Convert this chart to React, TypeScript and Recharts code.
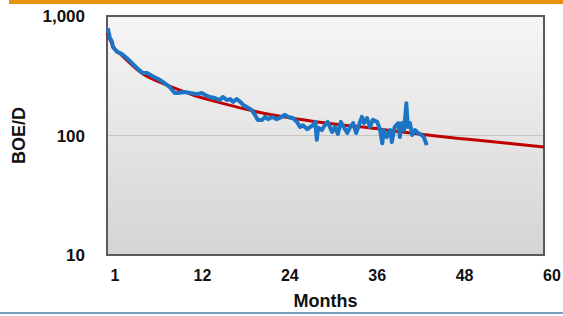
import { LineChart, Line, XAxis, YAxis, CartesianGrid, ReferenceArea } from 'recharts'

const actualMonths = [
  0.1, 0.4, 0.7, 0.8, 1.4, 1.8, 2.2, 2.7, 3.4, 4.1, 4.9, 5.5, 6.2, 7.0, 7.7, 8.6, 9.3, 9.7,
  10.7, 11.4, 12.4, 13.0, 13.5, 14.1, 14.8, 15.5, 15.9, 16.5, 16.9, 17.3, 17.8, 18.3, 18.7,
  19.2, 19.9, 20.3, 20.7, 21.3, 21.7, 22.1, 22.7, 23.3, 24.0, 24.4, 24.9, 25.5, 26.1, 26.5,
  26.9, 27.5, 27.9, 28.3, 28.6, 28.8, 29.0, 29.5, 29.9, 30.3, 30.9, 31.3, 31.7, 32.1, 32.5,
  33.0, 33.4, 33.8, 34.2, 34.5, 35.0, 35.3, 35.7, 36.1, 36.5, 37.1, 37.5, 37.8, 38.0, 38.4,
  38.9, 39.1, 39.5, 40.0, 40.2, 40.5, 40.8, 41.1, 41.3, 41.6, 41.9, 42.3, 42.7, 43.2, 43.5, 43.9,
]
const actualRate = [
  790, 654, 606, 550, 500, 490, 472, 445, 404, 367, 333, 333, 315, 297, 280, 255, 227, 227,
  231, 227, 222, 227, 218, 210, 206, 198, 210, 198, 202, 191, 202, 191, 180,
  173, 163, 149, 135, 135, 143, 137, 143, 137, 143, 149, 143, 140, 130, 118,
  122, 113, 118, 122, 130, 92, 116, 111, 122, 130, 107, 118, 103, 130, 118,
  105, 118, 127, 105, 118, 143, 127, 140, 118, 135, 130, 111, 86, 111, 97,
  111, 88, 118, 127, 97, 127, 111, 186, 118, 127, 101, 111, 105, 101, 97, 83,
]

// Decline curve forecast (red)
const forecastMonths = [0, 1, 2, 3, 4, 5, 6, 8, 10, 12, 15, 18, 21, 24, 28, 32, 36, 40, 44, 48, 52, 56, 60]
const forecastRate = [720, 540, 470, 410, 362, 325, 302, 268, 240, 216, 192, 172, 156, 144, 132, 123, 116, 108, 101, 95, 90, 85, 80]

const xTicks = [0, 12, 24, 36, 48, 60]
const xTickLabels = ['1', '12', '24', '36', '48', '60']
const yTicks = [10, 100, 1000]

const actual = actualMonths.map((month, i) => ({ month, rate: actualRate[i] }))
const forecast = forecastMonths.map((month, i) => ({ month, rate: forecastRate[i] }))

const FONT = '"Liberation Sans", Arial, sans-serif'

export default function App() {
  return (
    <div style={{ position: 'absolute', left: 0, top: 0, width: 563, height: 316, background: '#fff', fontFamily: FONT }}>
      {/* orange header strip */}
      <div style={{ position: 'absolute', left: 9, top: 0, right: 0, height: 4, background: '#e8920e' }} />
      <LineChart width={563} height={316} margin={{ top: 16, right: 19, bottom: 6, left: 0 }}>
        <defs>
          <linearGradient id="plotBg" x1="0" y1="0" x2="0" y2="1">
            <stop offset="0%" stopColor="#f6f6f6" />
            <stop offset="100%" stopColor="#d4d4d4" />
          </linearGradient>
        </defs>
        <CartesianGrid vertical={false} fill="url(#plotBg)" stroke="#c4c4c4" strokeWidth={1} />
        <XAxis
          type="number"
          dataKey="month"
          domain={[0, 60]}
          ticks={xTicks}
          interval={0}
          height={55}
          tickLine={false}
          axisLine={false}
          tickSize={0}
          tickMargin={15}
          tickFormatter={(v: number) => xTickLabels[xTicks.indexOf(v)]}
          tick={{ fill: '#111', fontSize: 16, fontWeight: 'bold', fontFamily: FONT, dx: 8 }}
          label={{ value: 'Months', position: 'insideBottom', offset: 3, fill: '#111', fontSize: 18, fontWeight: 'bold', fontFamily: FONT }}
        />
        <YAxis
          type="number"
          scale="log"
          domain={[10, 1000]}
          ticks={yTicks}
          allowDataOverflow
          width={107}
          tickLine={false}
          axisLine={false}
          tickSize={0}
          tickMargin={22}
          tickFormatter={(v: number) => v.toLocaleString('en-US')}
          tick={{ fill: '#111', fontSize: 17, fontWeight: 'bold', fontFamily: FONT }}
          label={{ value: 'BOE/D', angle: -90, position: 'insideLeft', offset: 19, fill: '#111', fontSize: 18, fontWeight: 'bold', fontFamily: FONT, style: { textAnchor: 'middle' } }}
        />
        <Line data={forecast} dataKey="rate" type="monotone" stroke="#c00000" strokeWidth={3} dot={false} isAnimationActive={false} />
        <Line data={actual} dataKey="rate" type="linear" stroke="#1c74c4" strokeWidth={4} dot={false} isAnimationActive={false} strokeLinejoin="round" />
        <ReferenceArea x1={0} x2={60} y1={10} y2={1000} fill="none" stroke="#5a5a5a" strokeWidth={2} ifOverflow="visible" />
      </LineChart>
      {/* bottom rule */}
      <div style={{ position: 'absolute', left: 0, right: 0, top: 312, height: 2, background: '#7d9cbd' }} />
    </div>
  )
}
